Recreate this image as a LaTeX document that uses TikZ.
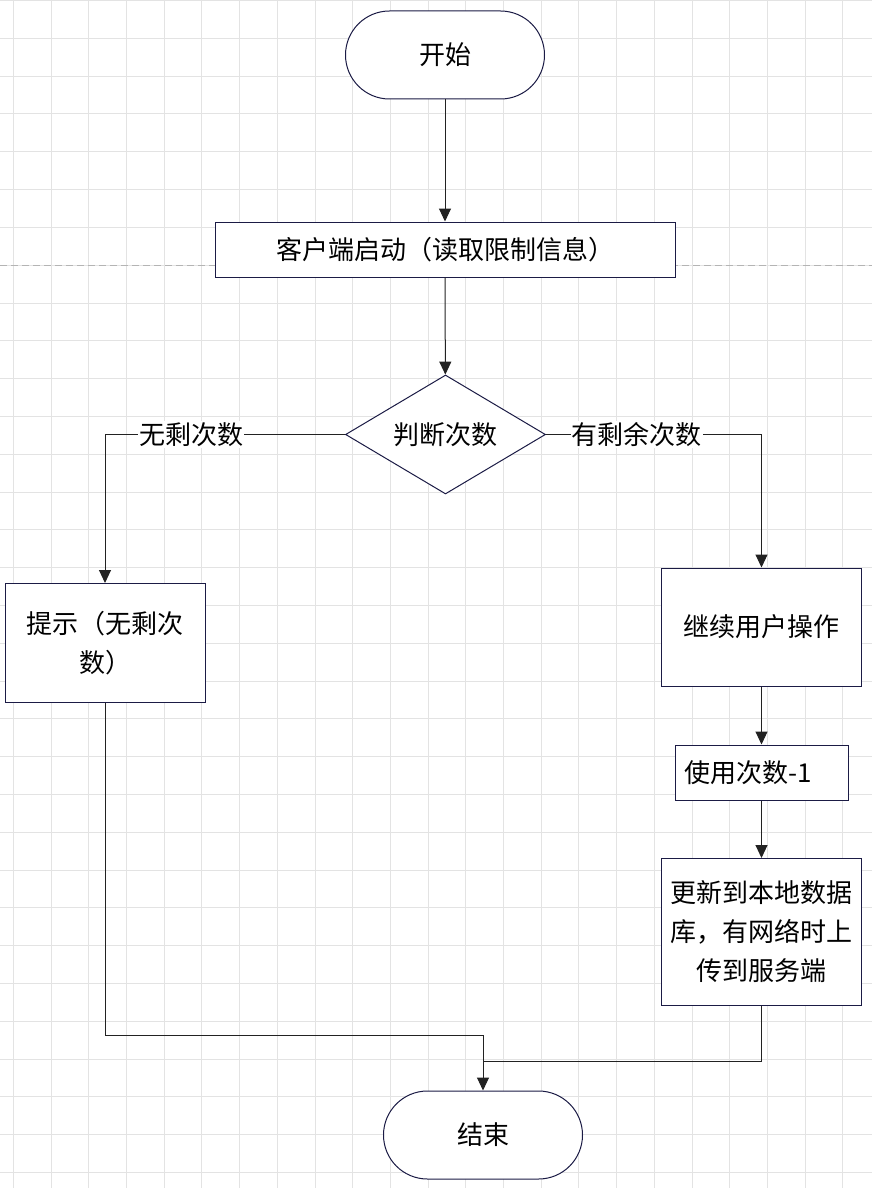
\documentclass[tikz,border=0pt]{standalone}
\usepackage{fontspec}
\setmainfont{Noto Sans CJK SC}
\usetikzlibrary{shapes.geometric,arrows.meta}
\definecolor{boxline}{HTML}{1B1B45}
\definecolor{gridline}{HTML}{E3E3E3}
\definecolor{flowline}{HTML}{222222}
\definecolor{breakline}{HTML}{B4B4B4}
\tikzset{
  base/.style={draw=boxline, line width=1pt, fill=white, text=black,
    font=\fontsize{26}{39}\selectfont, inner sep=0pt, align=center},
  terminal/.style={base, rounded corners=44pt, minimum width=199pt, minimum height=88pt},
  procbox/.style={base, rectangle},
  decision/.style={base, diamond, aspect=1.68, minimum width=200pt, minimum height=119pt},
  flow/.style={draw=flowline, line width=1pt, -{Triangle[width=12pt,length=13pt]}},
  plainflow/.style={draw=flowline, line width=1pt},
  branchlabel/.style={fill=white, text=black, font=\fontsize{26}{30}\selectfont, inner sep=1pt}
}
\begin{document}
\begin{tikzpicture}[x=1pt, y=-1pt]
  \useasboundingbox (0,0) rectangle (872,1188);
  \fill[white] (0,0) rectangle (872,1188);
  \foreach \i in {0,...,22}
    \draw[gridline, line width=0.8pt] ({13.3+37.7*\i},0) -- ({13.3+37.7*\i},1188);
  \foreach \j in {0,...,31}
    \draw[gridline, line width=0.8pt] (0,{0.5+37.8*\j}) -- (872,{0.5+37.8*\j});
  \draw[breakline, line width=0.8pt, dash pattern=on 7pt off 4pt] (0,265.5) -- (872,265.5);

  \node[terminal] (start) at (445,55) {开始};
  \node[procbox, minimum width=460pt, minimum height=55pt] (init) at (445,249.5)
    {客户端启动（读取限制信息）};
  \node[decision] (judge) at (445.5,434.5) {判断次数};
  \node[procbox, minimum width=200pt, minimum height=119pt] (tip) at (105,643)
    {提示（无剩次\\数）};
  \node[procbox, minimum width=200pt, minimum height=118pt] (cont) at (761.5,627)
    {继续用户操作};
  \node[procbox, minimum width=173pt, minimum height=55pt, text width=155pt,
    inner xsep=9pt, align=left] (minus) at (761.5,772.5) {使用次数-1};
  \node[procbox, minimum width=200pt, minimum height=147pt] (update) at (761.5,932)
    {更新到本地数据\\库，有网络时上\\传到服务端};
  \node[terminal] (finish) at (483,1135) {结束};

  \coordinate (joinL) at (483,1035);
  \coordinate (joinR) at (483,1061);

  \draw[flow] (start) -- (init);
  \draw[flow] (init) -- (judge);
  \draw[flow] (judge.west) -| node[branchlabel, pos=0.32] {无剩次数} (tip.north);
  \draw[flow] (judge.east) -| node[branchlabel, pos=0.21] {有剩余次数} (cont.north);
  \draw[flow] (cont) -- (minus);
  \draw[flow] (minus) -- (update);
  \draw[flow] (tip.south) |- (joinL) -- (finish.north);
  \draw[plainflow] (update.south) |- (joinR);
\end{tikzpicture}
\end{document}
